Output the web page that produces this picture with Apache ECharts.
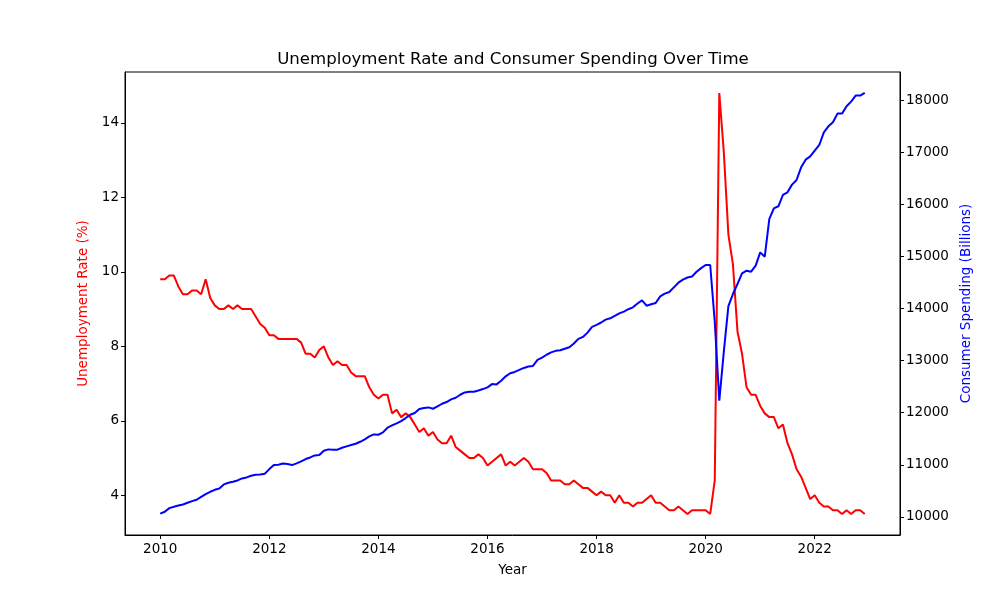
<!DOCTYPE html>
<html lang="en">

<head>
	<meta charset="UTF-8">
	<title>Unemployment Rate and Consumer Spending Over Time</title>
	<script src="https://cdn.jsdelivr.net/npm/echarts@6/dist/echarts.min.js"></script>
	<style>
		html, body { margin: 0; padding: 0; background: #fff; }
		#chart { width: 1000px; height: 600px; }
	</style>
</head>

<body>
	<div id="chart"></div>
	<script>
		// monthly series, Jan 2010 .. Dec 2022
		var startYear = 2010
		var unemployment = [
			9.8, 9.8, 9.9, 9.9, 9.6, 9.4, 9.4, 9.5, 9.5, 9.4, 9.8, 9.3,
			9.1, 9.0, 9.0, 9.1, 9.0, 9.1, 9.0, 9.0, 9.0, 8.8, 8.6, 8.5,
			8.3, 8.3, 8.2, 8.2, 8.2, 8.2, 8.2, 8.1, 7.8, 7.8, 7.7, 7.9,
			8.0, 7.7, 7.5, 7.6, 7.5, 7.5, 7.3, 7.2, 7.2, 7.2, 6.9, 6.7,
			6.6, 6.7, 6.7, 6.2, 6.3, 6.1, 6.2, 6.1, 5.9, 5.7, 5.8, 5.6,
			5.7, 5.5, 5.4, 5.4, 5.6, 5.3, 5.2, 5.1, 5.0, 5.0, 5.1, 5.0,
			4.8, 4.9, 5.0, 5.1, 4.8, 4.9, 4.8, 4.9, 5.0, 4.9, 4.7, 4.7,
			4.7, 4.6, 4.4, 4.4, 4.4, 4.3, 4.3, 4.4, 4.3, 4.2, 4.2, 4.1,
			4.0, 4.1, 4.0, 4.0, 3.8, 4.0, 3.8, 3.8, 3.7, 3.8, 3.8, 3.9,
			4.0, 3.8, 3.8, 3.7, 3.6, 3.6, 3.7, 3.6, 3.5, 3.6, 3.6, 3.6,
			3.6, 3.5, 4.4, 14.8, 13.2, 11.0, 10.2, 8.4, 7.8, 6.9, 6.7, 6.7,
			6.4, 6.2, 6.1, 6.1, 5.8, 5.9, 5.4, 5.1, 4.7, 4.5, 4.2, 3.9,
			4.0, 3.8, 3.7, 3.7, 3.6, 3.6, 3.5, 3.6, 3.5, 3.6, 3.6, 3.5
		]
		var spending = [
			10060, 10096, 10167, 10192, 10218, 10237, 10269, 10301, 10327, 10384, 10436, 10481,
			10519, 10545, 10622, 10654, 10673, 10699, 10737, 10757, 10789, 10808, 10815, 10827,
			10917, 10994, 11000, 11026, 11013, 10994, 11026, 11064, 11110, 11141, 11180, 11187,
			11269, 11296, 11288, 11290, 11327, 11353, 11379, 11404, 11442, 11487, 11545, 11584,
			11577, 11622, 11712, 11756, 11795, 11840, 11898, 11962, 11994, 12071, 12090, 12103,
			12077, 12122, 12173, 12206, 12256, 12288, 12346, 12391, 12404, 12404, 12429, 12455,
			12487, 12551, 12545, 12616, 12700, 12760, 12784, 12823, 12861, 12890, 12900, 13015,
			13060, 13115, 13160, 13190, 13200, 13230, 13260, 13330, 13420, 13457, 13540, 13650,
			13690, 13735, 13790, 13815, 13860, 13910, 13945, 13990, 14026, 14100, 14160, 14058,
			14085, 14110, 14237, 14290, 14320, 14410, 14500, 14560, 14600, 14620, 14711, 14780,
			14840, 14840, 13750, 12231, 13180, 14050, 14282, 14475, 14680, 14731, 14711, 14827,
			15083, 15000, 15724, 15930, 15969, 16186, 16237, 16385, 16474, 16718, 16865, 16929,
			17038, 17147, 17391, 17506, 17583, 17750, 17750, 17891, 17981, 18096, 18096, 18148
		]
		var yearTicks = [2010, 2012, 2014, 2016, 2018, 2020, 2022]
		var rateTicks = [4, 6, 8, 10, 12, 14]
		var spendTicks = [10000, 11000, 12000, 13000, 14000, 15000, 16000, 17000, 18000]

		// decimal year for each month
		var months = unemployment.map(function (v, i) { return startYear + i / 12 })

		var font = 'DejaVu Sans'
		var plain = function (v) { return String(v) }
		var chart = echarts.init(document.getElementById('chart'))

		var option = {
			backgroundColor: '#fff',
			animation: false,
			title: {
				text: 'Unemployment Rate and Consumer Spending Over Time',
				left: 508,
				top: 46,
				textAlign: 'center',
				textStyle: { fontFamily: font, fontSize: 16.6, fontWeight: 'normal', color: '#000' }
			},
			grid: {
				left: 125, right: 100, top: 72, bottom: 65,
				show: true, borderColor: '#000', borderWidth: 1, backgroundColor: 'transparent'
			},
			xAxis: {
				type: 'value',
				min: 2009.354,
				max: 2023.563,
				name: 'Year',
				nameLocation: 'middle',
				nameGap: 28,
				nameTextStyle: { fontFamily: font, fontSize: 13.5, color: '#000' },
				splitLine: { show: false },
				axisLine: { onZero: false, lineStyle: { color: '#000' } },
				axisTick: { customValues: yearTicks, length: 4, lineStyle: { color: '#000' } },
				axisLabel: {
					customValues: yearTicks, fontFamily: font, fontSize: 13.5, color: '#000', margin: 7,
					formatter: plain
				}
			},
			yAxis: [
				{
					type: 'value',
					position: 'left',
					min: 2.935,
					max: 15.365,
					name: 'Unemployment Rate (%)',
					nameLocation: 'middle',
					nameGap: 34,
					nameTextStyle: { fontFamily: font, fontSize: 13.5, color: '#ff0000' },
					splitLine: { show: false },
					axisLine: { show: true, lineStyle: { color: '#000' } },
					axisTick: { show: true, customValues: rateTicks, length: 4, lineStyle: { color: '#000' } },
					axisLabel: { customValues: rateTicks, fontFamily: font, fontSize: 13.5, color: '#000', margin: 6, formatter: plain }
				},
				{
					type: 'value',
					position: 'right',
					min: 9650,
					max: 18550,
					name: 'Consumer Spending (Billions)',
					nameLocation: 'middle',
					nameGap: 55,
					nameTextStyle: { fontFamily: font, fontSize: 13.5, color: '#0000ff' },
					splitLine: { show: false },
					axisLine: { show: true, lineStyle: { color: '#000' } },
					axisTick: { show: true, customValues: spendTicks, length: 4, lineStyle: { color: '#000' } },
					axisLabel: { customValues: spendTicks, fontFamily: font, fontSize: 13.5, color: '#000', margin: 6, formatter: plain }
				}
			],
			series: [
				{
					name: 'Unemployment Rate',
					type: 'line',
					yAxisIndex: 0,
					showSymbol: false,
					symbol: 'none',
					lineStyle: { color: '#ff0000', width: 2 },
					data: months.map(function (t, i) { return [t, unemployment[i]] })
				},
				{
					name: 'Consumer Spending',
					type: 'line',
					yAxisIndex: 1,
					showSymbol: false,
					symbol: 'none',
					lineStyle: { color: '#0000ff', width: 2 },
					data: months.map(function (t, i) { return [t, spending[i]] })
				}
			]
		}
		chart.setOption(option)
	</script>
</body>

</html>
